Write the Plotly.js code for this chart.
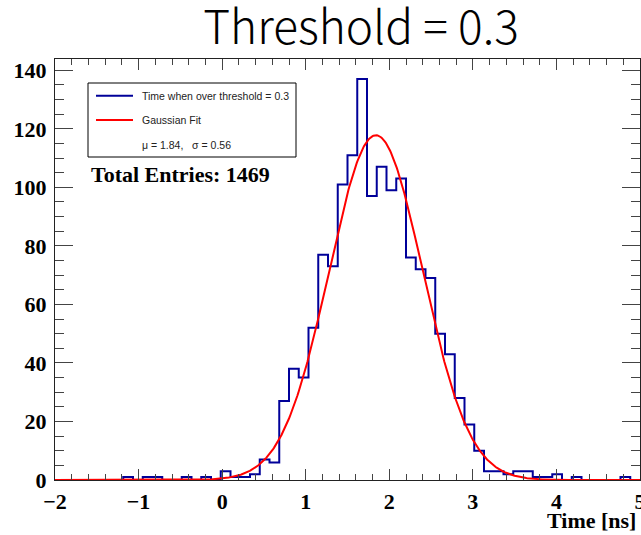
<!DOCTYPE html>
<html>
<head>
<meta charset="utf-8">
<script src="https://cdn.plot.ly/plotly-3.0.1.min.js"></script>
<style>html,body{margin:0;padding:0;background:#fff;}</style>
</head>
<body>
<div id="chart" style="width:641px;height:535px;"></div>
<script>
// ---- Data ----
const histLow = -2;
const histHigh = 5;
const histCounts = [0,0,0,0,0,0,0,1,0,1, 1,0,0,1,0,1,0,3,1,1,
                    2,7,6,27,38,35,52,77,73,101, 111,137,97,107,99,103,76,72,69,50,
                    43,28,19,10,3,3,2,3,3,1, 1,2,0,1,0,0,0,0,1,0];
const fitMu = 1.84;
const fitSigma = 0.56;
const fitAmp = 117.8;
const totalEntries = 1469;
const xTickVals = [-2,-1,0,1,2,3,4,5];
const yTickVals = [0,20,40,60,80,100,120,140];
const histName = 'Time when over threshold = 0.3';
const fitName = 'Gaussian Fit';
const titleText = 'Threshold = 0.3';

// ---- Build step histogram (bin edges from histogram definition) ----
const nBins = histCounts.length;
const binW = (histHigh - histLow) / nBins;
const stepX = [], stepY = [];
stepX.push(histLow); stepY.push(0);
for (let k = 0; k < nBins; k++) { stepX.push(histLow + k * binW); stepY.push(histCounts[k]); }
stepX.push(histHigh); stepY.push(histCounts[nBins - 1]);
stepX.push(histHigh); stepY.push(0);

// ---- Gaussian fit curve from the printed fit parameters ----
const fitX = [], fitY = [];
for (let i = 0; i <= 700; i++) {
  const x = histLow + i * (histHigh - histLow) / 700;
  fitX.push(x);
  fitY.push(fitAmp * Math.exp(-0.5 * Math.pow((x - fitMu) / fitSigma, 2)));
}

// ---- Layout geometry helpers (pixel -> paper) ----
const W = 641, H = 535;
const M = {l: 55, r: 1, t: 59, b: 55};
const pw = W - M.l - M.r, ph = H - M.t - M.b;
const px = x => (x - M.l) / pw;
const py = y => (H - M.b - y) / ph;

const serifBold = {family: 'Liberation Serif, Times New Roman, serif', size: 22, color: '#000', weight: 'bold'};
const legFont = {family: 'Liberation Sans, Arial, sans-serif', size: 10.5, color: '#222'};

const traces = [
  {x: stepX, y: stepY, type: 'scatter', mode: 'lines', name: histName,
   line: {shape: 'hv', color: '#000099', width: 2}, hoverinfo: 'skip', showlegend: false},
  {x: fitX, y: fitY, type: 'scatter', mode: 'lines', name: fitName,
   line: {color: '#ff0000', width: 2}, hoverinfo: 'skip', showlegend: false}
];

const axisCommon = {
  showgrid: false, zeroline: false, showline: true, linecolor: '#222', linewidth: 1,
  mirror: 'allticks', ticks: 'inside', tickcolor: '#444', tickwidth: 1,
  tickfont: serifBold, ticklabeloverflow: 'allow'
};

const layout = {
  width: W, height: H,
  margin: M,
  paper_bgcolor: '#fff', plot_bgcolor: '#fff',
  showlegend: false,
  title: {text: titleText, x: 361 / W, xanchor: 'center', xref: 'container',
          y: 1 - 28 / H, yanchor: 'middle', yref: 'container',
          font: {family: 'Noto Sans CJK SC, Noto Sans, sans-serif', size: 46, color: '#000', weight: 300}},
  xaxis: Object.assign({}, axisCommon, {
    range: [histLow, histHigh], tickmode: 'array', tickvals: xTickVals,
    ticklen: 11, ticklabelstandoff: 2,
    minor: {dtick: 0.2, tick0: 0, ticks: 'inside', ticklen: 6, tickcolor: '#444', showgrid: false}
  }),
  yaxis: Object.assign({}, axisCommon, {
    range: [0, 143.85], tickmode: 'array', tickvals: yTickVals,
    ticklen: 18, ticklabelstandoff: 3,
    minor: {dtick: 5, tick0: 0, ticks: 'inside', ticklen: 9, tickcolor: '#444', showgrid: false}
  }),
  shapes: [
    {type: 'rect', xref: 'paper', yref: 'paper', x0: px(88), x1: px(296), y0: py(83), y1: py(157),
     line: {color: '#000', width: 1}, fillcolor: '#fff', layer: 'above'},
    {type: 'line', xref: 'paper', yref: 'paper', x0: px(96), x1: px(133), y0: py(95.7), y1: py(95.7),
     line: {color: '#000099', width: 2}},
    {type: 'line', xref: 'paper', yref: 'paper', x0: px(96), x1: px(133), y0: py(120), y1: py(120),
     line: {color: '#ff0000', width: 2}}
  ],
  annotations: [
    {text: histName, xref: 'paper', yref: 'paper', x: px(140), y: py(95.7), xanchor: 'left', yanchor: 'middle',
     showarrow: false, font: legFont},
    {text: fitName, xref: 'paper', yref: 'paper', x: px(140), y: py(120), xanchor: 'left', yanchor: 'middle',
     showarrow: false, font: legFont},
    {text: '\u03bc = ' + fitMu.toFixed(2) + ',\u00a0\u00a0 \u03c3 = ' + fitSigma.toFixed(2),
     xref: 'paper', yref: 'paper', x: px(140), y: py(145.3), xanchor: 'left', yanchor: 'middle',
     showarrow: false, font: legFont},
    {text: 'Total Entries: ' + totalEntries, xref: 'paper', yref: 'paper', x: px(89), y: py(174),
     xanchor: 'left', yanchor: 'middle', showarrow: false, font: serifBold},
    {text: 'Time [ns]', xref: 'paper', yref: 'paper', x: px(638), y: py(520),
     xanchor: 'right', yanchor: 'middle', showarrow: false, font: serifBold}
  ]
};

Plotly.newPlot('chart', traces, layout, {staticPlot: true, displayModeBar: false});
</script>
</body>
</html>
